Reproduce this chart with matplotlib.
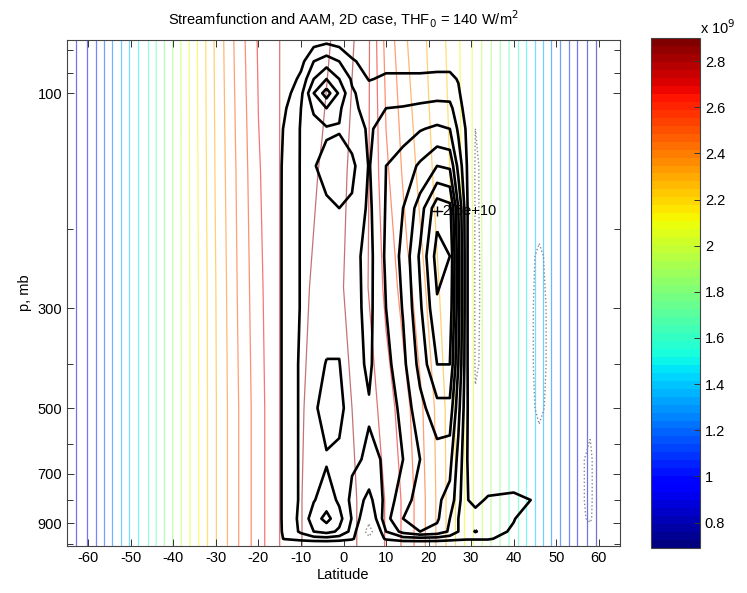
import numpy as np
import matplotlib
matplotlib.use("Agg")
import matplotlib.pyplot as plt
from matplotlib.colors import Normalize
from matplotlib.ticker import FixedLocator, FixedFormatter, NullFormatter
import matplotlib.cm as cm

plt.rcParams['font.family'] = ['Liberation Sans', 'DejaVu Sans']

# ---------------- AAM field (units of 1e9) ----------------
lat_m = [-64, -60, -55, -50, -45, -40, -35, -30, -25, -20, -15, -10, -5,
         0, 5, 10, 15, 20, 25, 30, 35, 40, 45, 50, 55, 60]
p_m = [76, 150, 270, 500, 800, 1012]
aam_p76 = [0.825, 0.973, 1.199, 1.424, 1.635, 1.868, 2.10, 2.33, 2.52, 2.68, 2.76, 2.80, 2.83,
           2.88, 2.82, 2.55, 2.40, 2.30, 2.20, 2.05, 1.85, 1.633, 1.410, 1.177, 0.960, 0.757]
aam_p150 = [0.825, 0.973, 1.199, 1.424, 1.635, 1.868, 2.095, 2.32, 2.50, 2.66, 2.76, 2.81, 2.86,
            2.86, 2.80, 2.60, 2.45, 2.33, 2.22, 2.05, 1.848, 1.633, 1.410, 1.177, 0.960, 0.757]
aam_p270 = [0.825, 0.973, 1.199, 1.424, 1.635, 1.868, 2.09, 2.31, 2.49, 2.645, 2.76, 2.83, 2.88,
            2.85, 2.78, 2.65, 2.52, 2.38, 2.24, 2.06, 1.846, 1.633, 1.410, 1.177, 0.960, 0.757]
aam_p500 = [0.825, 0.973, 1.199, 1.424, 1.635, 1.868, 2.088, 2.306, 2.479, 2.632, 2.76, 2.845, 2.88,
            2.87, 2.82, 2.72, 2.60, 2.45, 2.27, 2.064, 1.846, 1.633, 1.410, 1.177, 0.960, 0.757]
aam_p800 = [0.825, 0.973, 1.199, 1.424, 1.635, 1.868, 2.088, 2.306, 2.479, 2.632, 2.760, 2.848, 2.89,
            2.88, 2.832, 2.755, 2.634, 2.464, 2.276, 2.064, 1.846, 1.633, 1.410, 1.177, 0.960, 0.757]
aam_p1012 = [0.825, 0.973, 1.199, 1.424, 1.635, 1.868, 2.088, 2.306, 2.479, 2.632, 2.760, 2.848, 2.89,
             2.88, 2.832, 2.755, 2.634, 2.464, 2.276, 2.064, 1.846, 1.633, 1.410, 1.177, 0.960, 0.757]
aam_levels = [0.60 + 0.09 * k for k in range(26)]

# ---------------- Streamfunction (units of -1e10) ----------------
lat_s = [-64, -45, -25, -18, -14, -10, -7, -4, -1, 2, 6, 10, 14, 18, 22, 25, 27, 29,
         31, 34, 40, 46, 52, 58, 60]
p_s = [76, 85, 93, 100, 108, 120, 145, 180, 230, 300, 400, 500, 650, 800, 880, 940, 975, 1012]
psi_rows = [
    [0, 0, 0, 0, 0.02, 0.1, 0.25, 0.3, 0.25, 0.12, 0.05, 0.05, 0.05, 0.05, 0.05, 0.05, 0.02, 0, 0, 0, 0, 0, 0, 0, 0],
    [0, 0, 0, 0, 0.08, 0.3, 0.7, 0.85, 0.7, 0.45, 0.25, 0.3, 0.3, 0.3, 0.3, 0.3, 0.2, 0.05, 0, 0, 0, 0, 0, 0, 0],
    [0, 0, 0, 0, 0.15, 0.48, 1.0, 1.3, 1.0, 0.66, 0.38, 0.45, 0.45, 0.45, 0.47, 0.47, 0.38, 0.12, 0, 0, 0, 0, 0, 0, 0],
    [0, 0, 0, 0.02, 0.25, 0.62, 1.3, 1.75, 1.25, 0.74, 0.55, 0.56, 0.56, 0.58, 0.6, 0.6, 0.45, 0.18, 0, 0, 0, 0, 0, 0, 0],
    [0, 0, 0, 0.04, 0.35, 0.7, 1.05, 1.3, 1.05, 0.75, 0.62, 0.7, 0.72, 0.76, 0.8, 0.78, 0.52, 0.27, -0.05, 0, 0, 0, 0, 0, 0],
    [0, 0, 0, 0.06, 0.42, 0.72, 0.88, 0.96, 0.98, 0.85, 0.66, 0.82, 0.9, 0.98, 1.05, 1.0, 0.65, 0.35, -0.1, 0, 0, 0, 0, 0, 0],
    [0, 0, 0, 0.08, 0.45, 0.72, 0.98, 1.1, 1.14, 1.08, 0.68, 1.0, 1.12, 1.35, 1.6, 1.55, 0.9, 0.4, -0.13, -0.02, 0, 0, 0, 0, 0],
    [0, 0, 0, 0.1, 0.45, 0.72, 0.85, 0.95, 1.0, 0.95, 0.64, 1.02, 1.3, 1.75, 2.4, 2.3, 1.3, 0.45, -0.13, -0.02, 0, -0.05, 0, 0, 0],
    [0, 0, 0, 0.1, 0.45, 0.72, 0.84, 0.88, 0.88, 0.8, 0.6, 1.05, 1.38, 1.95, 2.62, 2.5, 1.4, 0.45, -0.14, -0.02, 0, -0.12, 0, 0, 0],
    [0, 0, 0, 0.1, 0.45, 0.72, 0.86, 0.92, 0.92, 0.8, 0.62, 1.0, 1.32, 1.85, 2.45, 2.4, 1.4, 0.45, -0.14, -0.02, 0, -0.13, -0.02, 0, 0],
    [0, 0, 0, 0.1, 0.45, 0.75, 0.92, 1.01, 1.01, 0.8, 0.66, 0.9, 1.22, 1.7, 2.2, 2.2, 1.3, 0.45, -0.13, -0.02, 0, -0.13, -0.02, 0, 0],
    [0, 0, 0, 0.1, 0.45, 0.75, 0.95, 1.12, 1.1, 0.82, 0.72, 0.8, 1.1, 1.5, 1.8, 1.8, 1.1, 0.45, -0.06, 0, 0, -0.12, -0.02, -0.06, 0],
    [0, 0, 0, 0.1, 0.45, 0.75, 0.92, 0.97, 0.92, 0.75, 0.66, 0.72, 1.0, 1.3, 1.45, 1.4, 0.9, 0.42, 0.05, 0, 0, -0.05, 0, -0.13, 0],
    [0, 0, 0, 0.1, 0.45, 0.75, 0.98, 1.15, 0.95, 0.62, 0.3, 0.8, 1.2, 1.4, 1.35, 1.2, 0.8, 0.42, 0.3, 0.45, 0.5, 0.35, 0, -0.13, 0],
    [0, 0, 0, 0.1, 0.45, 0.78, 1.15, 1.4, 1.1, 0.68, 0.05, 0.9, 1.3, 1.5, 1.35, 1.0, 0.7, 0.45, 0.55, 0.5, 0.42, 0.1, 0, -0.12, 0],
    [0, 0, 0, 0.05, 0.45, 0.75, 1.0, 1.1, 0.95, 0.6, -0.3, 0.7, 1.1, 1.3, 1.2, 0.95, 0.7, 0.55, 0.72, 0.55, 0.35, 0, 0, -0.05, 0],
    [0, 0, 0, 0.02, 0.42, 0.52, 0.58, 0.6, 0.55, 0.45, 0.0, 0.45, 0.58, 0.6, 0.58, 0.52, 0.48, 0.45, 0.45, 0.45, 0.2, 0, 0, 0, 0],
    [0] * 25,
]
psi_solid_levels = [-2.5e10, -2.2e10, -1.9e10, -1.6e10, -1.3e10, -1.0e10, -0.7e10, -0.4e10]
psi_dotted_levels = [0.1e10]
label_lat, label_p, label_text = 22.0, 183.0, '-2.5e+10'

xticks = [-60, -50, -40, -30, -20, -10, 0, 10, 20, 30, 40, 50, 60]
yticks_major = [100, 300, 500, 700, 900]
yticks_minor = [80, 90, 200, 400, 600, 800, 1000]
cbar_ticks = [0.8, 1.0, 1.2, 1.4, 1.6, 1.8, 2.0, 2.2, 2.4, 2.6, 2.8]

# ---------------- figure ----------------
fs = 10.5
fig = plt.figure(figsize=(7.47, 5.93), dpi=100)
W, H = 747, 593
ax = fig.add_axes([67 / W, 1 - 546 / H, (620 - 67) / W, (546 - 39.5) / H])

cmap = plt.get_cmap('jet', 64)
norm = Normalize(vmin=0.69, vmax=2.90)

aam = np.array([aam_p76, aam_p150, aam_p270, aam_p500, aam_p800, aam_p1012])
ax.contour(lat_m, p_m, aam, levels=aam_levels, cmap=cmap, norm=norm,
           linewidths=0.9, alpha=0.55, zorder=1)

psi = -np.array(psi_rows) * 1e10
ax.contour(lat_s, p_s, psi, levels=psi_dotted_levels, colors='#8a8a8a',
           linewidths=1.0, linestyles='dotted', zorder=2)
ax.plot([label_lat], [label_p], marker='+', color='k', ms=7, mew=1.0, zorder=2.5)
ax.text(label_lat + 0.3, label_p, label_text, fontsize=fs, ha='left', va='center', zorder=2.5)
ax.contour(lat_s, p_s, psi, levels=psi_solid_levels, colors='k',
           linewidths=1.9, linestyles='solid', zorder=3)

ax.set_yscale('log')
ax.set_xlim(-65, 65)
ax.set_ylim(1012, 76)
ax.xaxis.set_major_locator(FixedLocator(xticks))
ax.xaxis.set_major_formatter(FixedFormatter([str(t) for t in xticks]))
ax.yaxis.set_major_locator(FixedLocator(yticks_major))
ax.yaxis.set_major_formatter(FixedFormatter([str(t) for t in yticks_major]))
ax.yaxis.set_minor_locator(FixedLocator(yticks_minor))
ax.yaxis.set_minor_formatter(NullFormatter())
ax.tick_params(which='both', direction='in', top=True, right=True, labelsize=fs,
               color='#333333', width=0.7)
ax.tick_params(which='major', length=5)
ax.tick_params(which='minor', length=4)
for s in ax.spines.values():
    s.set_color('#444444')
    s.set_linewidth(0.8)

ax.set_xlabel('Latitude', fontsize=fs, labelpad=2)
ax.set_ylabel('p, mb', fontsize=fs, labelpad=4)
ax.set_title('Streamfunction and AAM, 2D case, THF$_0$ = 140 W/m$^2$', fontsize=fs, pad=10)

# colorbar
cax = fig.add_axes([651 / W, 1 - 548 / H, 49 / W, (548 - 38) / H])
sm = cm.ScalarMappable(norm=norm, cmap=cmap)
cb = fig.colorbar(sm, cax=cax, ticks=cbar_ticks)
cb.ax.set_yticklabels(['%g' % t for t in cbar_ticks])
cb.ax.tick_params(direction='in', length=4, labelsize=fs, color='#333333', width=0.7)
cb.outline.set_edgecolor('#444444')
cb.outline.set_linewidth(0.8)
fig.text(700 / W, 1 - 28 / H, 'x 10$^9$', fontsize=fs, ha='left', va='center')

fig.savefig('out.png', dpi=100)
